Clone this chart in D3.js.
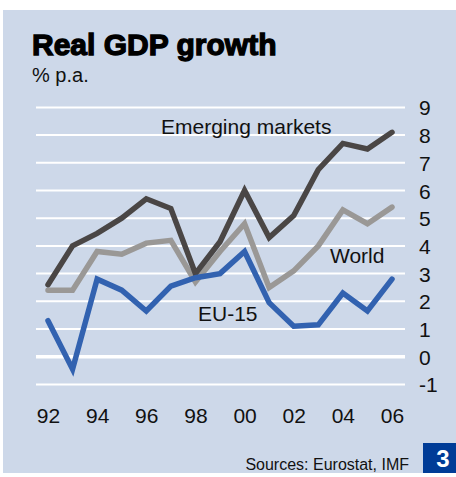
<!DOCTYPE html>
<html>
<head>
<meta charset="utf-8">
<script src="https://cdn.jsdelivr.net/npm/d3@7"></script>
<style>
  html, body { margin: 0; padding: 0; background: #fff; }
  svg { display: block; font-family: "Liberation Sans", Arial, sans-serif; }
</style>
</head>
<body>
<svg id="chart" width="456" height="477"></svg>
<script>
// Real GDP growth, % p.a., 1992-2006
const years = [1992,1993,1994,1995,1996,1997,1998,1999,2000,2001,2002,2003,2004,2005,2006];
const emerging = [2.6,4.0,4.45,5.0,5.7,5.35,3.0,4.15,6.0,4.3,5.1,6.75,7.7,7.5,8.1];
const world    = [2.4,2.4,3.8,3.7,4.1,4.2,2.7,3.8,4.8,2.5,3.1,4.0,5.3,4.8,5.4];
const eu15     = [1.3,-0.45,2.8,2.4,1.65,2.55,2.85,3.0,3.8,1.95,1.1,1.15,2.3,1.65,2.8];
const yTicks = [-1,0,1,2,3,4,5,6,7,8,9];
const xTicks = [1992,1994,1996,1998,2000,2002,2004,2006];

const svg = d3.select("#chart");
const FONT = "Liberation Sans, Arial, sans-serif";

// background panel
svg.append("rect").attr("x", 3).attr("y", 10).attr("width", 453).attr("height", 463)
  .attr("fill", "#cdd8e9");

const x = d3.scaleLinear().domain([1992, 2006]).range([48, 392]);
const y = d3.scaleLinear().domain([-1, 9]).range([384.4, 107.4]);

// horizontal grid
svg.append("g").selectAll("line").data(yTicks).join("line")
  .attr("x1", 36).attr("x2", 405)
  .attr("y1", d => y(d)).attr("y2", d => y(d))
  .attr("stroke", "#fff")
  .attr("stroke-width", d => d === 0 ? 3.5 : 2);

// right axis labels (plain hyphen for negatives)
const yAxis = d3.axisRight(y).tickValues(yTicks).tickSize(0).tickPadding(0)
  .tickFormat(d => String(d));
const gy = svg.append("g").attr("transform", "translate(419,0)").call(yAxis);
gy.select(".domain").remove();
gy.selectAll("text").attr("font-size", 21).attr("fill", "#111")
  .attr("font-family", FONT).attr("dy", "0.36em");

// bottom axis labels
const xAxis = d3.axisBottom(x).tickValues(xTicks).tickSize(0).tickPadding(0)
  .tickFormat(d => String(d % 100).padStart(2, "0"));
const gx = svg.append("g").attr("transform", "translate(0,423)").call(xAxis);
gx.select(".domain").remove();
gx.selectAll("text").attr("font-size", 21).attr("fill", "#111")
  .attr("font-family", FONT).attr("y", 0).attr("dy", 0);

// series lines
const line = d3.line().x((d, i) => x(years[i])).y(d => y(d));
const series = [
  { values: world, color: "#9a9896" },
  { values: emerging, color: "#4a4645" },
  { values: eu15, color: "#3262b0" }
];
svg.append("g").selectAll("path").data(series).join("path")
  .attr("d", d => line(d.values))
  .attr("fill", "none")
  .attr("stroke", d => d.color)
  .attr("stroke-width", 5.5)
  .attr("stroke-linejoin", "miter")
  .attr("stroke-linecap", "round");

// series labels
const labels = [
  { text: "Emerging markets", x: 161, y: 134 },
  { text: "World", x: 330, y: 263 },
  { text: "EU-15", x: 198, y: 321 }
];
svg.append("g").selectAll("text").data(labels).join("text")
  .attr("x", d => d.x).attr("y", d => d.y)
  .attr("font-size", 21).attr("fill", "#111")
  .text(d => d.text);

// title and unit
svg.append("text").attr("x", 32).attr("y", 55)
  .attr("font-size", 30).attr("font-weight", "bold")
  .attr("stroke", "#000").attr("stroke-width", 1.3)
  .attr("fill", "#000").text("Real GDP growth");
svg.append("text").attr("x", 32).attr("y", 82)
  .attr("font-size", 20).attr("fill", "#111").text("% p.a.");

// source
svg.append("text").attr("x", 409).attr("y", 470).attr("text-anchor", "end")
  .attr("font-size", 16).attr("fill", "#111").text("Sources: Eurostat, IMF");

// chart number badge
svg.append("rect").attr("x", 423).attr("y", 443).attr("width", 33).attr("height", 30)
  .attr("fill", "#003c97");
svg.append("text").attr("x", 443).attr("y", 467).attr("text-anchor", "middle")
  .attr("font-size", 24).attr("font-weight", "bold").attr("fill", "#fff").text("3");
</script>
</body>
</html>
